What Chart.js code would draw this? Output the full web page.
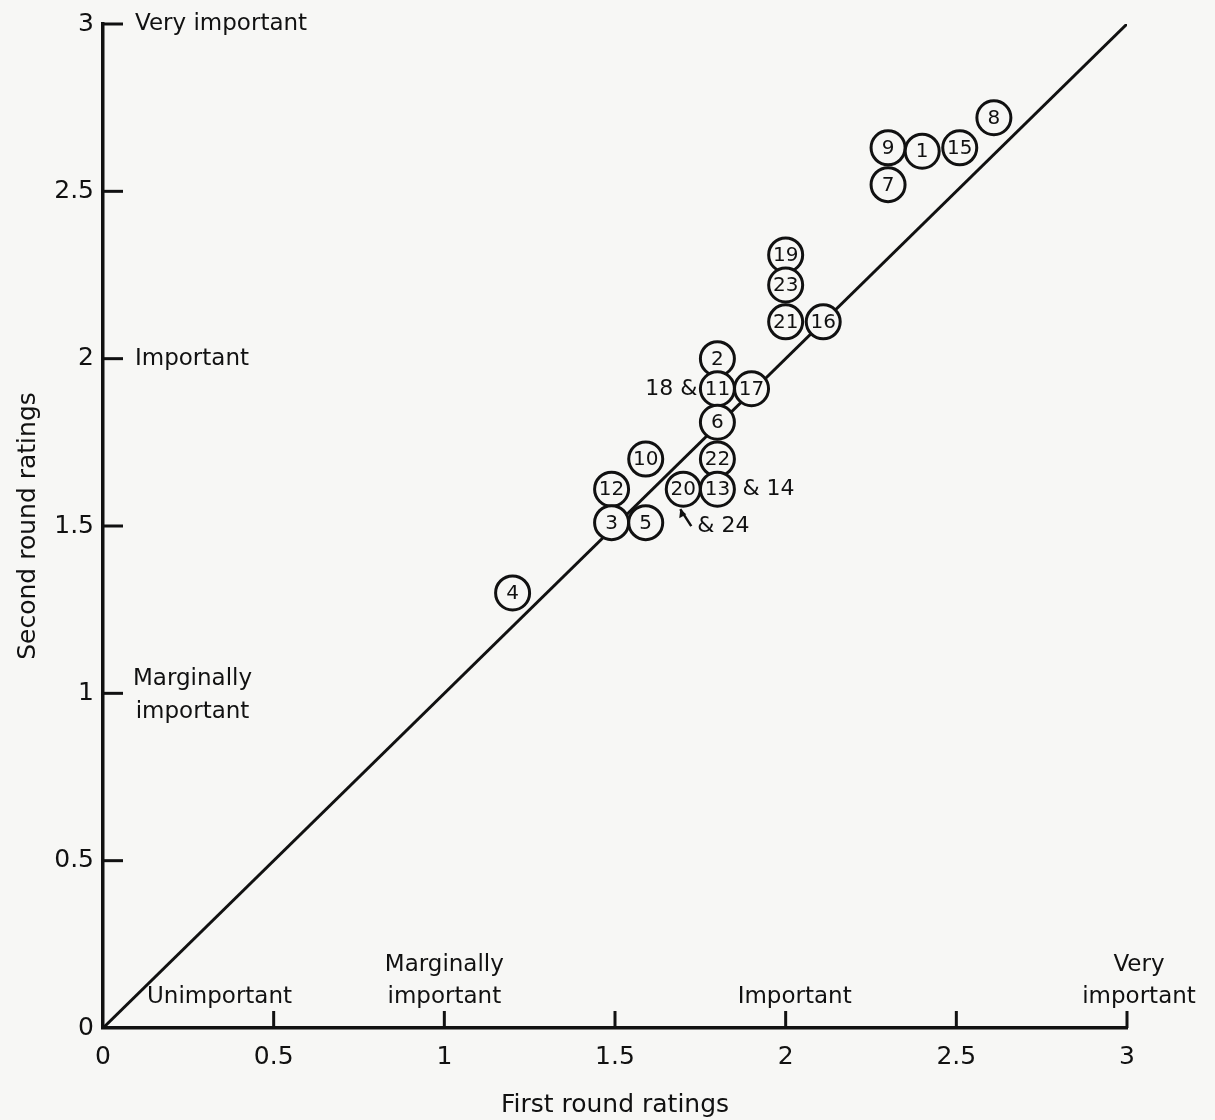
<!DOCTYPE html>
<html>
<head>
<meta charset="utf-8">
<script src="https://cdn.jsdelivr.net/npm/chart.js@4.4.1/dist/chart.umd.min.js"></script>
<style>
  html, body { margin: 0; padding: 0; background: #f7f7f5; }
  #wrap { width: 1215px; height: 1120px; }
</style>
</head>
<body>
<div id="wrap"><canvas id="myChart"></canvas></div>
<script>
// item numbers and their mean ratings
const items = ['8', '9', '1', '15', '7', '19', '23', '21', '16', '2', '11', '17', '6', '10', '22', '12', '20', '13', '3', '5', '4'];
const firstRound = [2.61, 2.30, 2.40, 2.51, 2.30, 2.00, 2.00, 2.00, 2.11, 1.80, 1.80, 1.90, 1.80, 1.59, 1.80, 1.49, 1.70, 1.80, 1.49, 1.59, 1.20];
const secondRound = [2.72, 2.63, 2.62, 2.63, 2.52, 2.31, 2.22, 2.11, 2.11, 2.00, 1.91, 1.91, 1.81, 1.70, 1.70, 1.61, 1.61, 1.61, 1.51, 1.51, 1.30];

// items that share a circle with another one
const sharedWith = ['11', '13', '20'];
const sharedNotes = ['18 &', '& 14', '& 24'];

const ratingTicks = [0, 0.5, 1, 1.5, 2, 2.5, 3];
const ratingNames = ['Unimportant', 'Marginally important', 'Important', 'Very important'];

const ink = '#111';
const paper = '#f7f7f5';
const FONT = '"DejaVu Sans", sans-serif';

const points = items.map((id, i) => ({ x: firstRound[i], y: secondRound[i] }));

// ticks inside the axes, word labels, numbers in circles
const extras = {
    id: 'extras',
    afterDraw(chart) {
        const { ctx, scales: { x, y } } = chart;
        const x0 = x.getPixelForValue(0);
        const y0 = y.getPixelForValue(0);
        ctx.save();
        ctx.strokeStyle = ink;
        ctx.fillStyle = ink;
        ctx.lineWidth = 3;
        ratingTicks.forEach(v => {
            if (v === 0) return;
            const py = y.getPixelForValue(v);
            const px = x.getPixelForValue(v);
            ctx.beginPath(); ctx.moveTo(x0, py); ctx.lineTo(x0 + 20, py); ctx.stroke();
            ctx.beginPath(); ctx.moveTo(px, y0); ctx.lineTo(px, y0 - 17); ctx.stroke();
        });

        ctx.font = '23px ' + FONT;
        ctx.textBaseline = 'middle';

        // y axis words
        ratingNames.forEach((name, v) => {
            if (v === 0) return;
            const py = y.getPixelForValue(v);
            if (name.startsWith('Marginally')) {
                const lines = name.split(' ');
                const w = Math.max(...lines.map(l => ctx.measureText(l).width));
                ctx.textAlign = 'center';
                ctx.fillText(lines[0], x0 + 30 + w / 2, py - 14);
                ctx.fillText(lines[1], x0 + 30 + w / 2, py + 19);
            } else {
                ctx.textAlign = 'left';
                ctx.fillText(name, x0 + 32, py);
            }
        });

        // x axis words
        const shift = [44, 0, 9, 12];
        ratingNames.forEach((name, v) => {
            const px = x.getPixelForValue(v);
            const lines = name.split(' ');
            if (v === 0) {
                ctx.textAlign = 'left';
                ctx.fillText(name, px + shift[v], y0 - 31);
                return;
            }
            ctx.textAlign = 'center';
            if (lines.length === 1) {
                ctx.fillText(name, px + shift[v], y0 - 31);
            } else {
                ctx.fillText(lines[0], px + shift[v], y0 - 63);
                ctx.fillText(lines[1], px + shift[v], y0 - 31);
            }
        });

        // numbers in the circles
        const meta = chart.getDatasetMeta(0);
        ctx.font = '20px ' + FONT;
        ctx.textAlign = 'center';
        meta.data.forEach((pt, i) => {
            ctx.fillText(items[i], pt.x, pt.y + 1);
        });

        // notes for shared circles
        ctx.font = '22px ' + FONT;
        sharedWith.forEach((id, k) => {
            const pt = meta.data[items.indexOf(id)];
            const note = sharedNotes[k];
            if (note.endsWith('&')) {
                ctx.textAlign = 'right';
                ctx.fillText(note, pt.x - 20, pt.y);
            } else if (k === 1) {
                ctx.textAlign = 'left';
                ctx.fillText(note, pt.x + 25, pt.y);
            } else {
                ctx.textAlign = 'left';
                ctx.fillText(note, pt.x + 14, pt.y + 37);
                // small arrow up to the circle
                ctx.lineWidth = 2.5;
                ctx.beginPath();
                ctx.moveTo(pt.x + 8, pt.y + 37);
                ctx.lineTo(pt.x - 3, pt.y + 20);
                ctx.stroke();
                ctx.beginPath();
                ctx.moveTo(pt.x - 3, pt.y + 20);
                ctx.lineTo(pt.x - 4, pt.y + 29);
                ctx.lineTo(pt.x + 3, pt.y + 25);
                ctx.closePath();
                ctx.fill();
            }
        });
        ctx.restore();
    }
};

const ctx = document.getElementById('myChart');

new Chart(ctx, {
    type: 'scatter',
    data: {
        datasets: [
            {
                label: 'Items',
                data: points,
                pointRadius: 17,
                pointHoverRadius: 17,
                pointBorderWidth: 3,
                borderColor: ink,
                backgroundColor: paper,
                order: 1
            },
            {
                type: 'line',
                label: 'Equal ratings',
                data: [{ x: 0, y: 0 }, { x: 3, y: 3 }],
                borderColor: ink,
                borderWidth: 3,
                pointRadius: 0,
                fill: false,
                order: 2
            }
        ]
    },
    options: {
        responsive: true,
        maintainAspectRatio: false,
        animation: false,
        layout: { padding: { top: 20, right: 88, left: 0, bottom: 0 } },
        plugins: {
            legend: { display: false },
            tooltip: { enabled: false }
        },
        scales: {
            x: {
                type: 'linear',
                min: 0,
                max: 3,
                afterBuildTicks: s => { s.ticks = ratingTicks.map(v => ({ value: v })); },
                afterFit: s => { s.height = 92; },
                grid: { display: false, drawTicks: false },
                border: { display: true, color: ink, width: 3.5 },
                ticks: {
                    color: ink,
                    padding: 14,
                    font: { family: FONT, size: 25 },
                    callback: v => String(v)
                },
                title: {
                    display: true,
                    text: 'First round ratings',
                    color: ink,
                    font: { family: FONT, size: 25 },
                    padding: { top: 7, bottom: 0 }
                }
            },
            y: {
                type: 'linear',
                min: 0,
                max: 3,
                afterBuildTicks: s => { s.ticks = ratingTicks.map(v => ({ value: v })); },
                afterFit: s => { s.width = 103; },
                grid: { display: false, drawTicks: false },
                border: { display: true, color: ink, width: 3.5 },
                ticks: {
                    color: ink,
                    padding: 9,
                    font: { family: FONT, size: 25 },
                    callback: v => String(v)
                },
                title: {
                    display: true,
                    text: 'Second round ratings',
                    color: ink,
                    font: { family: FONT, size: 25 },
                    padding: { top: 13, bottom: 0 }
                }
            }
        }
    },
    plugins: [extras]
});
</script>
</body>
</html>
